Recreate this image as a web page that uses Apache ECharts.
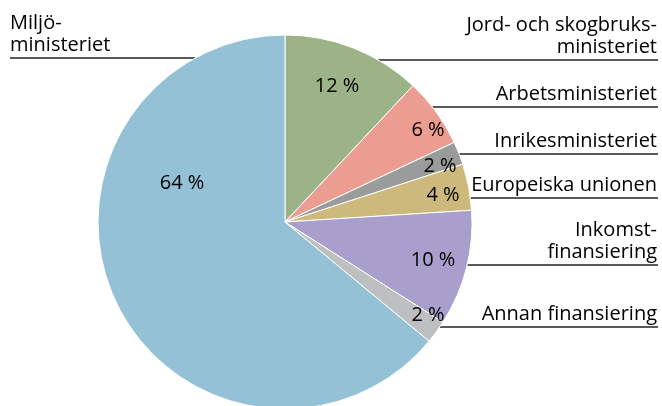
<!DOCTYPE html>
<html>
<head>
<meta charset="utf-8">
<script src="https://cdn.jsdelivr.net/npm/echarts@6/dist/echarts.min.js"></script>
<style>
  html, body { margin: 0; padding: 0; background: #fff; }
  #chart { width: 662px; height: 406px; }
</style>
</head>
<body>
<div id="chart"></div>
<script>
const names = [
  'Jord- och skogbruks-\nministeriet',
  'Arbetsministeriet',
  'Inrikesministeriet',
  'Europeiska unionen',
  'Inkomst-\nfinansiering',
  'Annan finansiering',
  'Miljö-\nministeriet'
]
const shares = [12, 6, 2, 4, 10, 2, 64]
const colors = ['#9cb387', '#eb9d92', '#9a9b9b', '#cdb97b', '#a99fcc', '#bdbfc1', '#95c1d6']

// where the underline of each name sits, and where each % label is centred
const lineY = [60, 107, 154, 198, 265, 327, 58]
const pctPos = [[337, 86], [428, 130], [440, 166], [443, 195], [433, 260], [428, 315], [182, 183]]

const cx = 285, cy = 222, r = 187
const rightEdge = 658, leftEdge = 10

const pieData = names.map((n, i) => ({ name: n, value: shares[i], itemStyle: { color: colors[i] } }))

const chart = echarts.init(document.getElementById('chart'))

const edgeX = (y, left) => {
  const dx = Math.sqrt(Math.max(0, r * r - (y - cy) * (y - cy)))
  return left ? cx - dx : cx + dx
}

const font = '"Open Sans", "Noto Sans", sans-serif'

chart.setOption({
  animation: false,
  series: [
    {
      type: 'pie',
      center: [cx, cy],
      radius: r,
      startAngle: 90,
      clockwise: true,
      avoidLabelOverlap: false,
      data: pieData,
      itemStyle: { borderColor: '#fff', borderWidth: 1 },
      label: {
        show: true,
        position: 'outside',
        color: '#000',
        fontFamily: font,
        fontSize: 20,
        lineHeight: 22,
        formatter: p => p.name
      },
      labelLine: {
        show: true,
        lineStyle: { color: '#222', width: 1.5 }
      },
      labelLayout: p => {
        const i = p.dataIndex
        const y = lineY[i]
        const left = i === 6
        const ex = edgeX(y, left)
        return {
          x: left ? leftEdge : rightEdge - 1,
          y: y - 2,
          align: left ? 'left' : 'right',
          verticalAlign: 'bottom',
          labelLinePoints: left
            ? [[ex, y], [ex, y], [leftEdge, y]]
            : [[ex, y], [ex, y], [rightEdge, y]]
        }
      },
      emphasis: { disabled: true }
    },
    {
      type: 'pie',
      center: [cx, cy],
      radius: r,
      startAngle: 90,
      silent: true,
      data: pieData.map(d => ({ name: d.name, value: d.value })),
      itemStyle: { color: 'rgba(0,0,0,0)', borderWidth: 0 },
      label: {
        show: true,
        position: 'inside',
        color: '#000',
        fontFamily: font,
        fontSize: 20,
        formatter: p => p.value + ' %'
      },
      labelLine: { show: false },
      labelLayout: p => ({
        x: pctPos[p.dataIndex][0],
        y: pctPos[p.dataIndex][1],
        align: 'center',
        verticalAlign: 'middle'
      })
    }
  ]
})
</script>
</body>
</html>
